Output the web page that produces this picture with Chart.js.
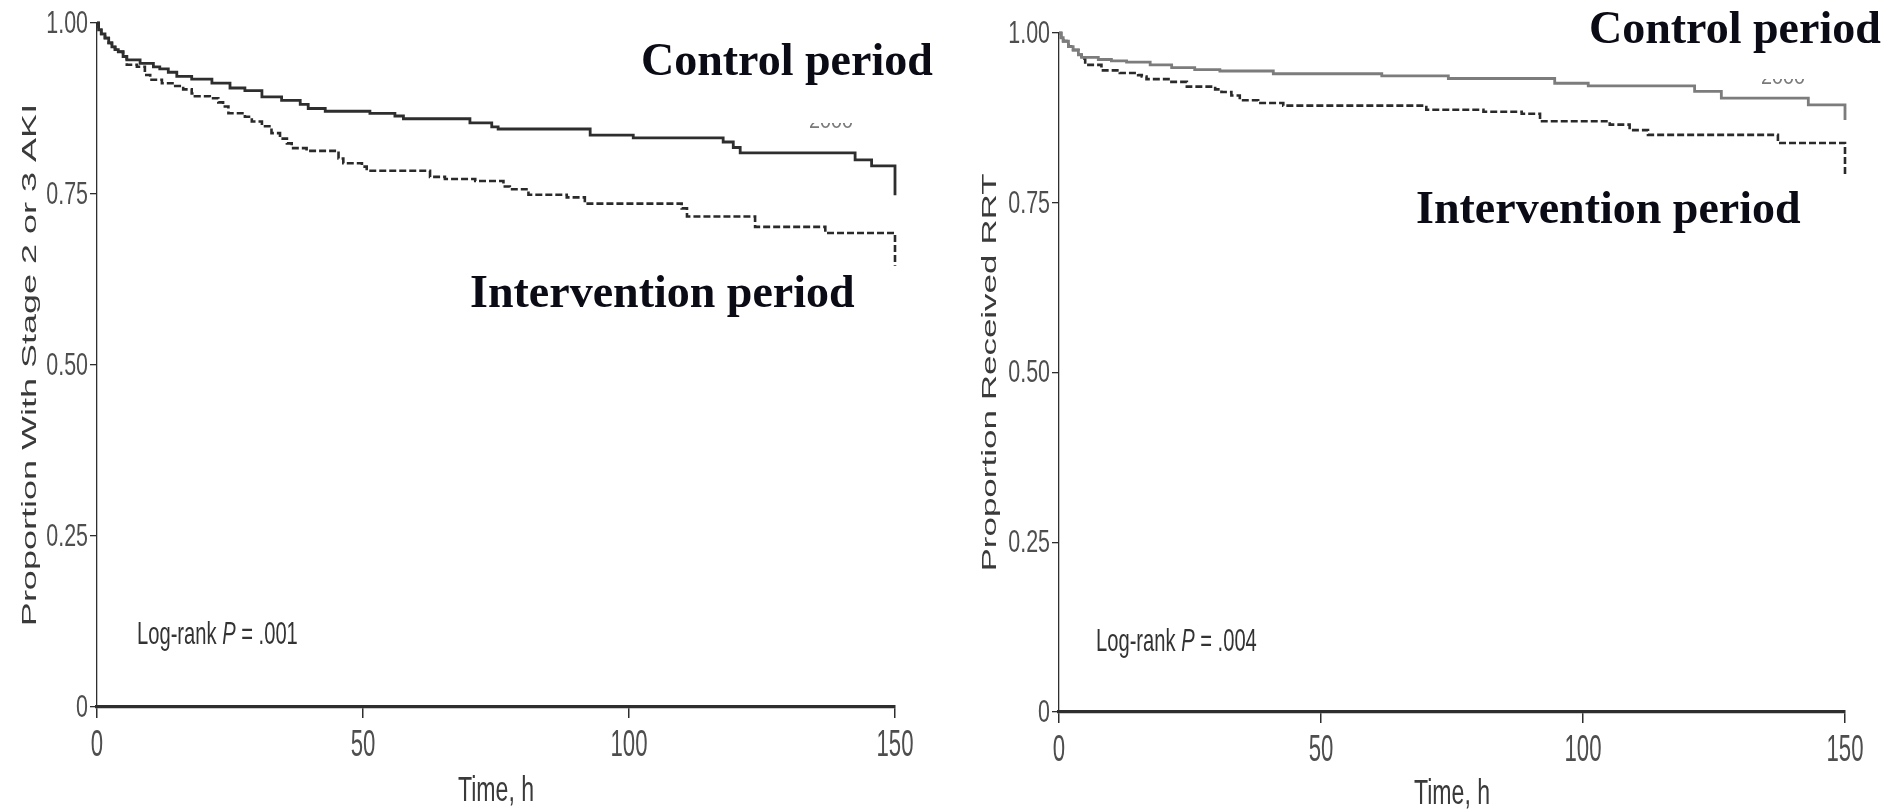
<!DOCTYPE html>
<html>
<head>
<meta charset="utf-8">
<script src="https://cdn.jsdelivr.net/npm/chart.js@4.4.1/dist/chart.umd.min.js"></script>
<style>
html,body{margin:0;padding:0;background:#fff;width:1904px;height:812px;overflow:hidden;}
#wrapL{position:absolute;left:0;top:0;width:950px;height:812px;}
#wrapR{position:absolute;left:950px;top:0;width:954px;height:812px;}
canvas{display:block;}
</style>
</head>
<body>
<div id="wrapL"><canvas id="aki" width="950" height="812"></canvas></div>
<div id="wrapR"><canvas id="rrt" width="954" height="812"></canvas></div>
<script>
// ---------- data ----------
const seriesNames = ['Control period', 'Intervention period'];

// Panel A: Stage 2 or 3 AKI (time in h, proportion free of event)
const akiControlTime = [0, 0.3, 0.8, 1.5, 2.2, 2.8, 3.4, 4.0, 4.9, 5.6, 8.1, 10.6, 11.8, 13.4, 15.0, 17.8, 21.6, 25.0, 27.8, 31.0, 34.7, 38.2, 39.7, 42.9, 51.3, 56.0, 57.6, 70.1, 74.2, 75.4, 92.7, 100.8, 117.7, 119.6, 120.9, 142.5, 145.6, 150];
const akiControlSurv = [1.0, 0.990, 0.984, 0.978, 0.971, 0.965, 0.961, 0.958, 0.951, 0.946, 0.941, 0.936, 0.933, 0.928, 0.922, 0.918, 0.912, 0.905, 0.901, 0.892, 0.887, 0.881, 0.875, 0.871, 0.868, 0.864, 0.860, 0.854, 0.848, 0.845, 0.836, 0.832, 0.826, 0.818, 0.810, 0.800, 0.791, 0.748];

const akiInterventionTime = [0, 0.3, 0.8, 1.5, 2.2, 2.8, 3.4, 4.0, 4.9, 5.6, 7.5, 9.0, 10.0, 12.2, 14.7, 16.2, 17.8, 18.4, 21.2, 22.8, 23.7, 24.7, 27.8, 29.1, 31.0, 32.8, 34.4, 35.7, 36.6, 39.4, 45.4, 46.3, 49.8, 50.7, 62.6, 65.4, 71.1, 76.4, 77.6, 81.1, 88.3, 91.7, 109.9, 110.9, 123.7, 136.9, 150];
const akiInterventionSurv = [1.0, 0.990, 0.984, 0.978, 0.971, 0.965, 0.961, 0.958, 0.951, 0.939, 0.936, 0.924, 0.917, 0.912, 0.908, 0.903, 0.897, 0.893, 0.890, 0.884, 0.878, 0.868, 0.863, 0.856, 0.849, 0.839, 0.831, 0.824, 0.817, 0.813, 0.802, 0.795, 0.790, 0.784, 0.775, 0.772, 0.769, 0.761, 0.757, 0.749, 0.745, 0.736, 0.729, 0.717, 0.702, 0.693, 0.645];

// Panel B: Received RRT
const rrtControlTime = [0, 0.4, 0.8, 1.8, 2.7, 3.7, 4.3, 7.5, 10.0, 12.9, 17.4, 21.5, 25.9, 30.7, 40.9, 61.6, 74.3, 94.6, 101.0, 121.3, 126.4, 143.0, 150];
const rrtControlSurv = [1.0, 0.993, 0.988, 0.980, 0.975, 0.968, 0.964, 0.961, 0.959, 0.957, 0.953, 0.949, 0.946, 0.944, 0.940, 0.937, 0.933, 0.926, 0.922, 0.914, 0.904, 0.894, 0.872];

const rrtInterventionTime = [0, 0.4, 0.8, 1.8, 2.7, 3.7, 4.3, 5.0, 8.1, 11.6, 15.1, 15.8, 16.7, 21.2, 24.4, 29.8, 31.0, 32.9, 34.5, 38.0, 42.8, 70.1, 81.0, 88.3, 91.8, 105.1, 108.9, 112.4, 137.2, 150];
const rrtInterventionSurv = [1.0, 0.993, 0.988, 0.980, 0.975, 0.968, 0.962, 0.953, 0.945, 0.941, 0.938, 0.936, 0.932, 0.928, 0.921, 0.917, 0.913, 0.908, 0.901, 0.897, 0.893, 0.887, 0.884, 0.881, 0.870, 0.865, 0.857, 0.850, 0.838, 0.788];

// ticks and texts
const xTickValues = [0, 50, 100, 150];
const xTickLabels = ['0', '50', '100', '150'];
const yTickValues = [0, 0.25, 0.5, 0.75, 1];
const yTickLabels = ['0', '0.25', '0.50', '0.75', '1.00'];
const xAxisTitle = 'Time, h';
const akiYAxisTitle = 'Proportion With Stage 2 or 3 AKI';
const rrtYAxisTitle = 'Proportion Received RRT';
const akiPValue = ['Log-rank ', 'P', ' = .001'];
const rrtPValue = ['Log-rank ', 'P', ' = .004'];
const hiddenLabel = '2000';

// ---------- drawing helpers ----------
const SANS = '"Liberation Sans", Arial, Helvetica, sans-serif';
const SERIF = '"Liberation Serif", "Times New Roman", serif';

const annotPlugin = {
  id: 'annot',
  afterDraw(chart, args, o) {
    const ctx = chart.ctx, a = chart.chartArea;
    const xs = chart.scales.x, ys = chart.scales.y;
    ctx.save();

    // tick labels (condensed), placed through the chart's scales
    ctx.fillStyle = '#4e4e4e';
    ctx.textBaseline = 'middle';
    ctx.textAlign = 'right';
    ctx.font = '32px ' + SANS;
    yTickValues.forEach((v, i) => {
      ctx.save();
      ctx.translate(a.left - 9, ys.getPixelForValue(v) + 1);
      ctx.scale(0.67, 1);
      ctx.fillText(yTickLabels[i], 0, 0);
      ctx.restore();
    });
    ctx.textBaseline = 'alphabetic';
    ctx.textAlign = 'center';
    ctx.font = '37px ' + SANS;
    xTickValues.forEach((v, i) => {
      ctx.save();
      ctx.translate(xs.getPixelForValue(v), a.bottom + o.xTickBase);
      ctx.scale(0.6, 1);
      ctx.fillText(xTickLabels[i], 0, 0);
      ctx.restore();
    });

    // y axis title (rotated, condensed)
    ctx.save();
    ctx.fillStyle = '#3a3a3a';
    ctx.translate(a.left - o.yTitleGap, (a.top + a.bottom) / 2);
    ctx.rotate(-Math.PI / 2);
    ctx.scale(1, 0.57);
    ctx.font = o.yTitleSize + 'px ' + SANS;
    ctx.textAlign = 'center';
    ctx.textBaseline = 'alphabetic';
    ctx.fillText(o.yTitle, 0, 0);
    ctx.restore();

    // x axis title (condensed)
    ctx.save();
    ctx.fillStyle = '#3a3a3a';
    ctx.translate((a.left + a.right) / 2, o.xTitleY);
    ctx.scale(0.66, 1);
    ctx.font = '35px ' + SANS;
    ctx.textAlign = 'center';
    ctx.textBaseline = 'alphabetic';
    ctx.fillText(xAxisTitle, 0, 0);
    ctx.restore();

    // log-rank text
    ctx.save();
    ctx.fillStyle = '#333';
    ctx.translate(o.pX, o.pY);
    ctx.scale(0.63, 1);
    ctx.textAlign = 'left';
    ctx.textBaseline = 'alphabetic';
    let x = 0;
    o.pText.forEach((s, i) => {
      ctx.font = (i === 1 ? 'italic ' : '') + '32px ' + SANS;
      ctx.fillText(s, x, 0);
      x += ctx.measureText(s).width;
    });
    ctx.restore();

    // partly hidden label
    ctx.save();
    ctx.beginPath();
    ctx.rect(o.hidX - 5, o.hidClipTop, 70, 30);
    ctx.clip();
    ctx.fillStyle = '#7a7a7a';
    ctx.translate(o.hidX, o.hidY);
    ctx.scale(0.9, 1);
    ctx.font = '22px ' + SANS;
    ctx.textAlign = 'left';
    ctx.textBaseline = 'alphabetic';
    ctx.fillText(hiddenLabel, 0, 0);
    ctx.restore();

    // series labels
    ctx.fillStyle = '#0b0b16';
    ctx.font = 'bold 46px ' + SERIF;
    ctx.textAlign = 'left';
    ctx.textBaseline = 'alphabetic';
    ctx.fillText(seriesNames[0], o.ctrlX, o.ctrlY);
    ctx.fillText(seriesNames[1], o.intX, o.intY);
    ctx.restore();
  }
};

function pts(t, s) { return t.map((v, i) => ({ x: v, y: s[i] })); }

function makeChart(id, ct, cs, it, is, cfg) {
  return new Chart(document.getElementById(id), {
    type: 'line',
    data: {
      datasets: [
        { label: seriesNames[0], data: pts(ct, cs), borderColor: cfg.ctrlColor, borderWidth: 2.8,
          stepped: true, pointRadius: 0, fill: false, clip: 6 },
        { label: seriesNames[1], data: pts(it, is), borderColor: '#2a2a2a', borderWidth: 2.6,
          borderDash: [7, 3], stepped: true, pointRadius: 0, fill: false, clip: 6 }
      ]
    },
    options: {
      responsive: false,
      animation: false,
      devicePixelRatio: 1,
      layout: { padding: { left: 0, right: cfg.padRight, top: cfg.padTop, bottom: 0 } },
      plugins: { legend: { display: false }, tooltip: { enabled: false }, annot: cfg.annot },
      scales: {
        x: {
          type: 'linear', min: 0, max: 150,
          afterBuildTicks: s => { s.ticks = xTickValues.map(v => ({ value: v })); },
          afterFit: s => { s.height = cfg.xAxisH; },
          border: { display: true, color: '#2e2e2e', width: 3.2 },
          grid: { display: true, drawOnChartArea: false, drawTicks: true, tickLength: 11, color: '#2e2e2e', lineWidth: 1.5 },
          ticks: { display: false }
        },
        y: {
          type: 'linear', min: 0, max: 1,
          afterBuildTicks: s => { s.ticks = yTickValues.map(v => ({ value: v })); },
          afterFit: s => { s.width = cfg.yAxisW; },
          border: { display: true, color: '#2e2e2e', width: 1.3 },
          grid: { display: true, drawOnChartArea: false, drawTicks: true, tickLength: 7, color: '#2e2e2e', lineWidth: 1.3 },
          ticks: { display: false }
        }
      }
    },
    plugins: [annotPlugin]
  });
}

makeChart('aki', akiControlTime, akiControlSurv, akiInterventionTime, akiInterventionSurv, {
  ctrlColor: '#2e2e2e', padRight: 55, padTop: 23, xAxisH: 105, yAxisW: 97,
  annot: { yTitle: akiYAxisTitle, yTitleSize: 36, yTitleGap: 61, xTitleY: 801, xTickBase: 49,
           pText: akiPValue, pX: 137, pY: 644,
           hidX: 809, hidY: 128, hidClipTop: 123,
           ctrlX: 641, ctrlY: 75, intX: 470, intY: 307 }
});

makeChart('rrt', rrtControlTime, rrtControlSurv, rrtInterventionTime, rrtInterventionSurv, {
  ctrlColor: '#7c7c7c', padRight: 59, padTop: 33, xAxisH: 100, yAxisW: 109,
  annot: { yTitle: rrtYAxisTitle, yTitleSize: 35, yTitleGap: 63, xTitleY: 804, xTickBase: 49,
           pText: rrtPValue, pX: 146, pY: 651,
           hidX: 811, hidY: 84, hidClipTop: 79,
           ctrlX: 639, ctrlY: 43, intX: 466, intY: 223 }
});
</script>
</body>
</html>
